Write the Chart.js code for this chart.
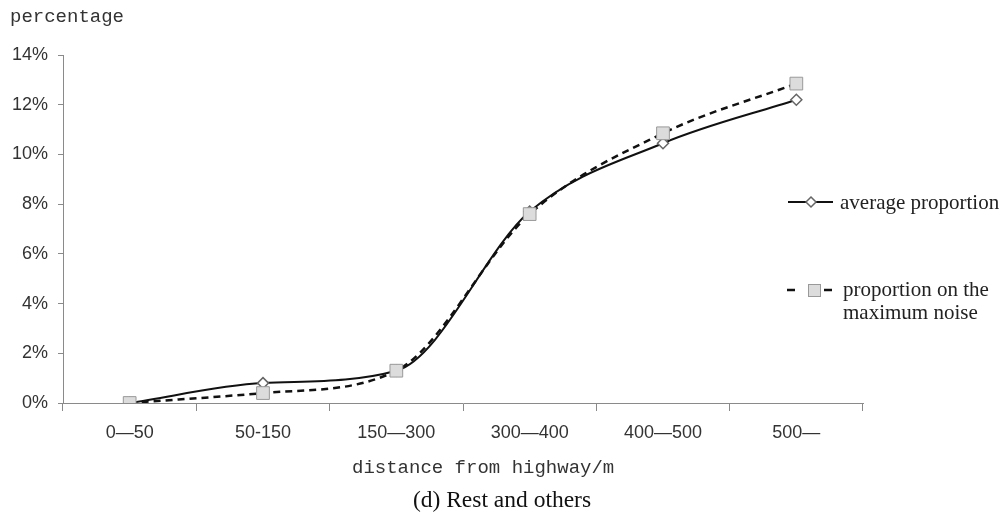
<!DOCTYPE html>
<html>
<head>
<meta charset="utf-8">
<script src="https://cdn.jsdelivr.net/npm/chart.js@4.4.1/dist/chart.umd.min.js"></script>
<style>
  body { margin: 0; background: #fff; }
  #wrap { position: relative; width: 1008px; height: 515px; overflow: hidden; }
  .lbl { position: absolute; white-space: nowrap; color: #222; }
  .mono { font-family: "Liberation Mono", "DejaVu Sans Mono", monospace; font-size: 19px; color: #333; }
  .serif { font-family: "Liberation Serif", "DejaVu Serif", serif; }
</style>
</head>
<body>
<div id="wrap">
  <canvas id="myChart" width="1008" height="515"></canvas>

  <div class="lbl mono" style="left:10px; top:5px; line-height:24px;">percentage</div>

  <!-- legend -->
  <svg style="position:absolute; left:780px; top:180px;" width="60" height="130">
    <line x1="8" y1="22" x2="53" y2="22" stroke="#111" stroke-width="2"/>
    <polygon points="31,17 36,22 31,27 26,22" fill="#fff" stroke="#666" stroke-width="1.5"/>
    <line x1="7" y1="110" x2="15" y2="110" stroke="#111" stroke-width="2.5"/>
    <line x1="44" y1="110" x2="52" y2="110" stroke="#111" stroke-width="2.5"/>
    <rect x="28.5" y="104.5" width="12" height="12" fill="#dcdcdc" stroke="#999" stroke-width="1"/>
  </svg>
  <div class="lbl serif" style="left:840px; top:190px; font-size:21px; line-height:24px;">average proportion</div>
  <div class="lbl serif" style="left:843px; top:278px; font-size:21px; line-height:23px;">proportion on the<br>maximum noise</div>

  <div class="lbl mono" style="left:352px; top:456px; line-height:24px;">distance from highway/m</div>
  <div class="lbl serif" style="left:0; width:1004px; text-align:center; top:486px; font-size:23.5px; line-height:27px; color:#111;">(d) Rest and others</div>
</div>

<script>
const ctx = document.getElementById('myChart');

// Distance bands and the two series (percent)
const categories = ['0—50', '50-150', '150—300', '300—400', '400—500', '500—'];
const averageProportion = [0, 0.8, 1.3, 7.7, 10.45, 12.2];
const maxNoiseProportion = [0, 0.4, 1.3, 7.6, 10.85, 12.85];
const yMin = 0, yMax = 14, yStep = 2;

const axisColor = '#8a8a8a';
const tickFont = { family: '"Liberation Sans", Arial, sans-serif', size: 18 };

new Chart(ctx, {
    type: 'line',
    data: {
        labels: categories,
        datasets: [{
            label: 'average proportion',
            data: averageProportion,
            order: 2,
            borderColor: '#111',
            borderWidth: 2,
            cubicInterpolationMode: 'monotone',
            pointStyle: 'rectRot',
            pointRadius: 5.5,
            pointBackgroundColor: '#fff',
            pointBorderColor: '#666',
            pointBorderWidth: 1.5,
            fill: false
        }, {
            label: 'proportion on the maximum noise',
            data: maxNoiseProportion,
            order: 1,   // drawn over the solid line, squares hide diamonds where they meet
            borderColor: '#111',
            borderWidth: 2.5,
            borderDash: [7, 5],
            cubicInterpolationMode: 'monotone',
            pointStyle: 'rect',
            pointRadius: 9,
            pointBackgroundColor: '#dcdcdc',
            pointBorderColor: '#999',
            pointBorderWidth: 1,
            fill: false
        }]
    },
    options: {
        responsive: false,
        animation: false,
        layout: { padding: { left: 0, top: 55, right: 145, bottom: 0 } },
        plugins: {
            legend: { display: false },
            tooltip: { enabled: false }
        },
        scales: {
            x: {
                offset: true,
                grid: { offset: true, drawOnChartArea: false, tickLength: 8, color: axisColor },
                border: { color: axisColor, width: 1 },
                ticks: { color: '#333', font: tickFont, padding: 11, maxRotation: 0 },
                afterFit: function(scale) { scale.height = 112; }
            },
            y: {
                min: yMin,
                max: yMax,
                grid: { drawOnChartArea: false, tickLength: 5, color: axisColor },
                border: { color: axisColor, width: 1 },
                ticks: {
                    stepSize: yStep,
                    color: '#333',
                    font: tickFont,
                    padding: 10,
                    callback: function(v) { return v + '%'; }
                },
                afterFit: function(scale) { scale.width = 63; }
            }
        }
    }
});
</script>
</body>
</html>
